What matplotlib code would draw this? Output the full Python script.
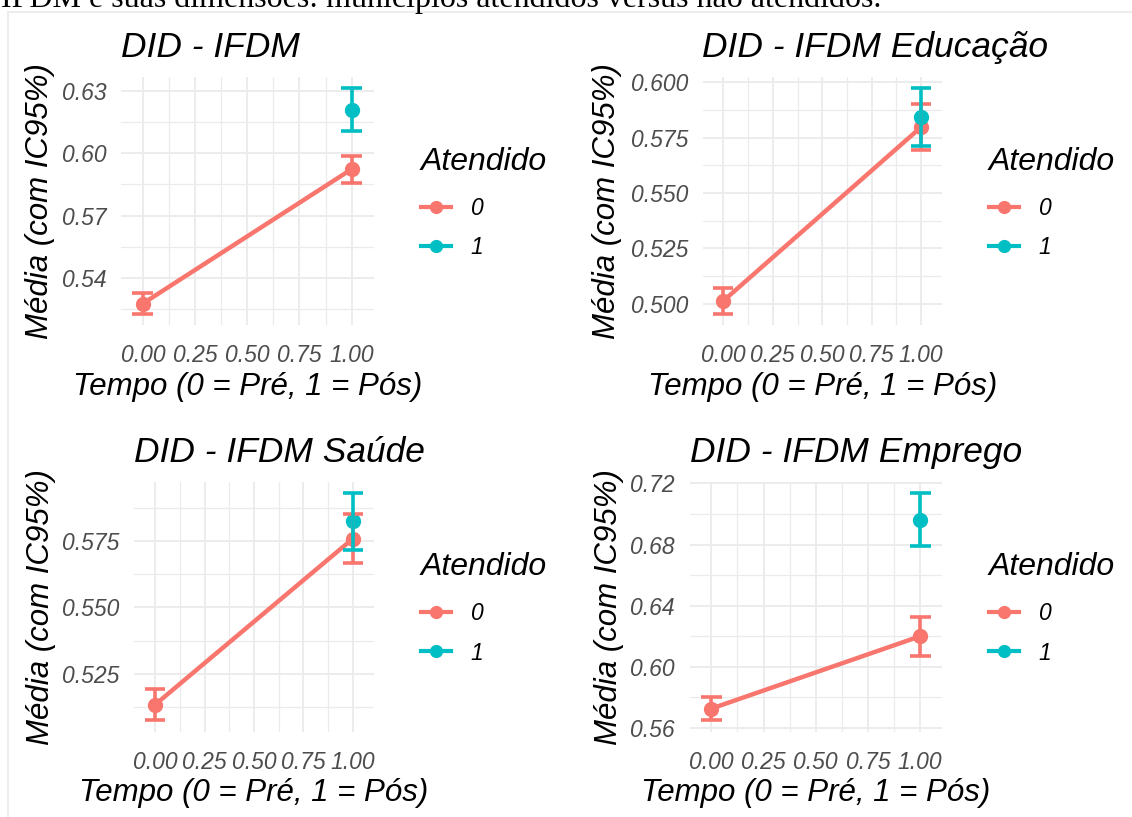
import numpy as np
import matplotlib
matplotlib.use("Agg")
import matplotlib.pyplot as plt
from matplotlib.lines import Line2D
from matplotlib.patches import Rectangle

W, H = 1132, 817

titulos = ["DID - IFDM", "DID - IFDM Educação", "DID - IFDM Saúde", "DID - IFDM Emprego"]
grupos = ["0", "1"]

# tempo of the observations of each group
tempo_g0 = [0, 1]
tempo_g1 = [1]

# group 0 (não atendido): mean and 95% CI at t=0 and t=1
media_g0 = [[0.5278, 0.5923], [0.5012, 0.5798], [0.5133, 0.5759], [0.5727, 0.6200]]
lo_g0 = [[0.5229, 0.5858], [0.4954, 0.5696], [0.5074, 0.5667], [0.5650, 0.6072]]
hi_g0 = [[0.5327, 0.5988], [0.5070, 0.5900], [0.5191, 0.5851], [0.5803, 0.6327]]

# group 1 (atendido): only t=1
media_g1 = [[0.6208], [0.5842], [0.5824], [0.6963]]
lo_g1 = [[0.6105], [0.5710], [0.5717], [0.6789]]
hi_g1 = [[0.6311], [0.5973], [0.5931], [0.7137]]

x_ticks = [0.0, 0.25, 0.5, 0.75, 1.0]
x_labels = ["0.00", "0.25", "0.50", "0.75", "1.00"]
y_ticks = [
    [0.54, 0.57, 0.60, 0.63],
    [0.500, 0.525, 0.550, 0.575, 0.600],
    [0.525, 0.550, 0.575],
    [0.56, 0.60, 0.64, 0.68, 0.72],
]
y_fmt = ["%.2f", "%.3f", "%.3f", "%.2f"]

cores = ["#F8766D", "#00BFC4"]
cap = 0.1

plt.rcParams["font.family"] = ["Liberation Sans", "DejaVu Sans"]
plt.rcParams["font.style"] = "italic"

fig = plt.figure(figsize=(W / 100, H / 100), dpi=100)

# panel boxes in pixels: left, top, right, bottom
caixas = [(121, 77, 373.6, 325), (702.5, 77, 942, 325),
          (134.3, 481.7, 373.6, 731.7), (689.5, 481.7, 942, 731.7)]
ylab_x = [40, 607.5, 41.5, 609]
xlab_y = [386.7, 386.7, 793, 793]
leg_pos = [(421, 147), (989, 147), (421, 552), (989, 552)]

for i in range(4):
    l, t, r, b = caixas[i]
    ax = fig.add_axes([l / W, 1 - b / H, (r - l) / W, (b - t) / H])

    m0 = np.array(media_g0[i])
    m1 = np.array(media_g1[i])
    x0 = np.array(tempo_g0)
    x1 = np.array(tempo_g1)

    ax.plot(x0, m0, color=cores[0], lw=3.2, zorder=3, solid_capstyle="butt")
    ax.plot(x0, m0, "o", color=cores[0], ms=10, zorder=4)
    ax.plot(x1, m1, "o", color=cores[1], ms=10, zorder=4)
    for x, lo, hi, c in [(x0, lo_g0[i], hi_g0[i], cores[0]), (x1, lo_g1[i], hi_g1[i], cores[1])]:
        ax.vlines(x, lo, hi, color=c, lw=2.6, zorder=5)
        ax.hlines(lo, x - cap / 2, x + cap / 2, color=c, lw=2.6, zorder=5)
        ax.hlines(hi, x - cap / 2, x + cap / 2, color=c, lw=2.6, zorder=5)

    ax.set_xticks(x_ticks)
    ax.set_xticklabels(x_labels)
    ax.set_xticks([0.125, 0.375, 0.625, 0.875], minor=True)
    yt = y_ticks[i]
    step = yt[1] - yt[0]
    ax.set_yticks(yt)
    ax.set_yticklabels([y_fmt[i] % v for v in yt])
    minors = [yt[0] - step / 2] + [v + step / 2 for v in yt]
    ax.set_yticks(minors, minor=True)

    # ggplot-like limits: data range plus 5% (set after ticks)
    xmin, xmax = -cap / 2, 1 + cap / 2
    dx = 0.05 * (xmax - xmin)
    ax.set_xlim(xmin - dx, xmax + dx)
    ymin = min(lo_g0[i] + lo_g1[i])
    ymax = max(hi_g0[i] + hi_g1[i])
    dy = 0.05 * (ymax - ymin)
    ax.set_ylim(ymin - dy, ymax + dy)

    ax.grid(which="major", color="#EBEBEB", lw=1.3)
    ax.grid(which="minor", color="#EBEBEB", lw=0.9)
    ax.set_axisbelow(True)
    for s in ax.spines.values():
        s.set_visible(False)
    ax.tick_params(which="both", length=0)
    ax.tick_params(axis="x", pad=14, labelsize=16.5, labelcolor="#4D4D4D")
    ax.tick_params(axis="y", pad=10.5, labelsize=16.5, labelcolor="#4D4D4D")

    ax.set_title(titulos[i], loc="left", fontsize=25.5, pad=14.4)
    ax.set_xlabel("Tempo (0 = Pré, 1 = Pós)", fontsize=22.5, va="center")
    ax.xaxis.set_label_coords(0.5, -(xlab_y[i] - b) / (b - t))
    ax.set_ylabel("Média (com IC95%)", fontsize=22.5, va="center", ha="center")
    ax.yaxis.set_label_coords(-(l - ylab_x[i]) / (r - l), 0.5)

    handles = [Line2D([], [], color=c, lw=3.0, marker="o", ms=8.5) for c in cores]
    lx, ly = leg_pos[i]
    leg = ax.legend(handles, grupos, title="Atendido", loc="upper left",
                    bbox_to_anchor=(lx / W, 1 - ly / H), bbox_transform=fig.transFigure,
                    frameon=False, fontsize=16.5, title_fontsize=23, alignment="left",
                    borderpad=0, borderaxespad=0, handlelength=1.31, handletextpad=0.85,
                    labelspacing=0.72)
    leg._legend_box.sep = 20 * 0.72

fig.text(1 / W, 1 - 6.5 / H, "IFDM e suas dimensões: municípios atendidos versus não atendidos.",
         family="Liberation Serif", style="normal", fontsize=23, va="baseline", ha="left")
fig.add_artist(Rectangle((8 / W, -0.05), 1.5, 1.05 - 12 / H, transform=fig.transFigure,
                         fill=False, edgecolor="#EDEDED", lw=1.5))

fig.savefig("out.png", dpi=100)
